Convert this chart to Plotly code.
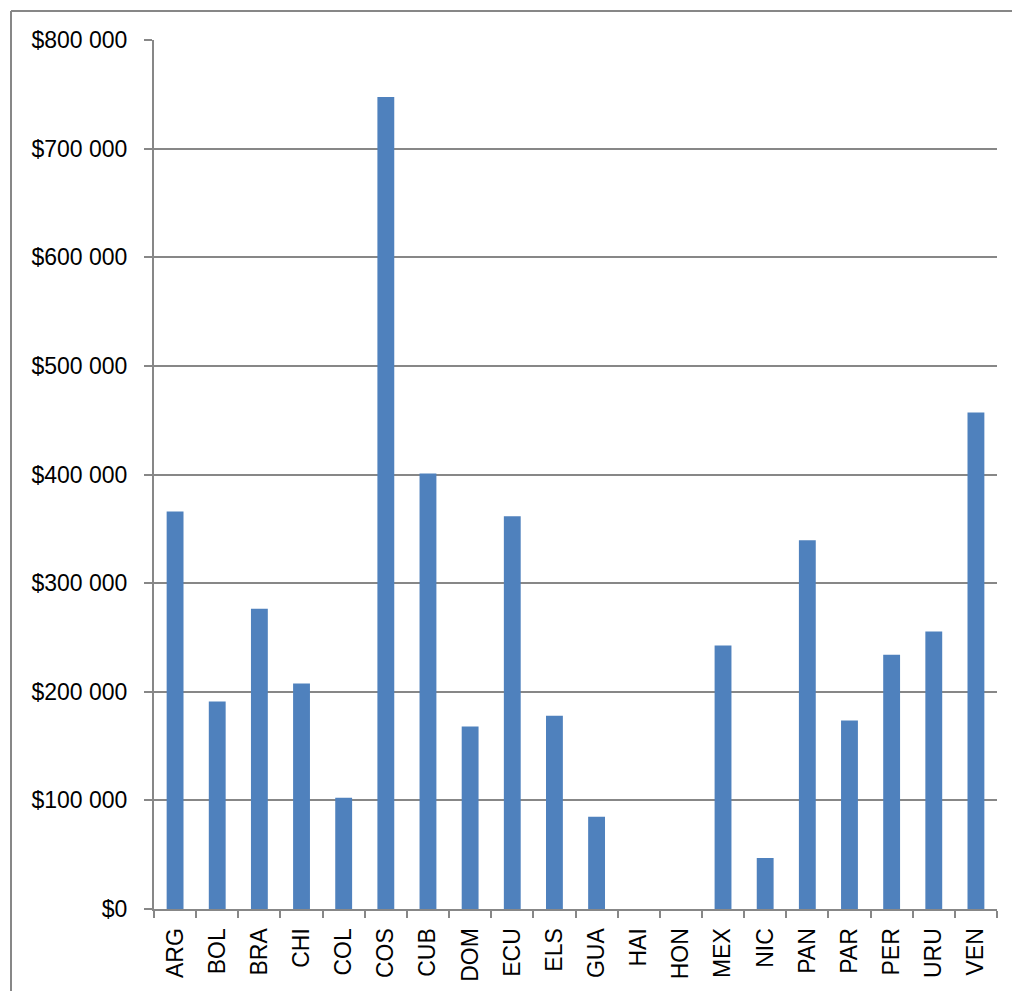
import plotly.graph_objects as go

countries = ["ARG", "BOL", "BRA", "CHI", "COL", "COS", "CUB", "DOM", "ECU", "ELS",
             "GUA", "HAI", "HON", "MEX", "NIC", "PAN", "PAR", "PER", "URU", "VEN"]
values = [366000, 191000, 276500, 207500, 102500, 747500, 401000, 168000, 361500, 178000,
          85000, 0, 0, 242500, 47000, 339500, 173500, 234000, 255500, 457000]
ytick_vals = [0, 100000, 200000, 300000, 400000, 500000, 600000, 700000, 800000]
ytick_text = ["$0", "$100 000", "$200 000", "$300 000", "$400 000",
              "$500 000", "$600 000", "$700 000", "$800 000"]

fig = go.Figure()
fig.add_trace(go.Bar(
    x=countries, y=values,
    marker=dict(color="#4F81BD", line=dict(width=0)),
))

font = "Liberation Sans, Arial, sans-serif"
W, H = 1012, 991
L, T, R, B = 154, 40, 15, 82
pw = W - L - R
ph = H - T - B
bx0 = (11 - L) / pw
by1 = (H - B - 11) / ph
border = dict(color="#878787", width=2)
fig.update_layout(
    width=W, height=H,
    margin=dict(l=L, r=R, t=T, b=B, autoexpand=False),
    paper_bgcolor="white", plot_bgcolor="white",
    bargap=0.6,
    showlegend=False,
    font=dict(family=font, size=23, color="black"),
    xaxis=dict(
        type="category",
        showline=True, linecolor="#878787", linewidth=2,
        ticks="outside", tickson="boundaries", ticklen=7, tickcolor="#878787", tickwidth=2,
        tickangle=-90, showgrid=False,
        ticklabelstandoff=8,
        tickfont=dict(family=font, size=23, color="black"),
    ),
    yaxis=dict(
        range=[0, 800000],
        tickvals=ytick_vals, ticktext=ytick_text,
        showline=True, linecolor="#878787", linewidth=2,
        ticks="outside", ticklen=8, tickcolor="#878787", tickwidth=2,
        showgrid=True, gridcolor="#878787", gridwidth=1.5,
        zeroline=False,
        ticklabelstandoff=12,
        tickfont=dict(family=font, size=23, color="black"),
    ),
    shapes=[
        dict(type="line", xref="paper", yref="paper",
             x0=bx0, x1=1.1, y0=by1, y1=by1, line=border, layer="below"),
        dict(type="line", xref="paper", yref="paper",
             x0=bx0, x1=bx0, y0=-0.2, y1=by1, line=border, layer="below"),
    ],
)

fig.write_html(
    "out.html",
    config={"displayModeBar": False},
    post_script="document.body.style.margin='0';document.body.style.overflow='hidden';",
)
